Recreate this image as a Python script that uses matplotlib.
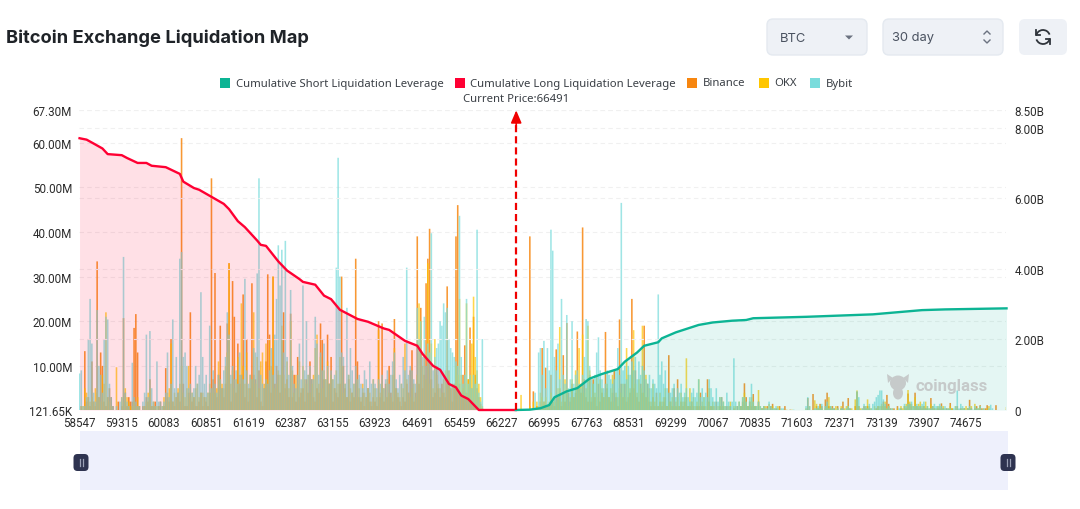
import numpy as np
import matplotlib
matplotlib.use("Agg")
import matplotlib.pyplot as plt
from matplotlib.patches import Rectangle, FancyBboxPatch, Polygon, Ellipse, Arc

# liquidation per price bin, in millions. one line = one x tick interval (24 bins)
start_price = 58547
bin_size = 32
current_price = 66491

binance = [
    0,1,0,13.3,2,3,1,11,2,1,33.4,3,13,10,2,1,3,5,3,1,0,0,2,0,
    1,20.7,4,1,3,2,2,18.5,21.6,13,1,0,1,1,3,2,7,1,1,2,0,1,2,0,
    1,9.5,3,2,16,2,1,3,4,2,61,6,1,1,4,22,2,3,1,1,2,4,1,3,
    2,1,4,52,7,30.8,3,8,19,5,3,6,19.5,33,2,29,21,4,15,6,8,26,3,16,
    2,5,28.5,8,7,3,9,2,1,5,11,30.5,17,4,30,6,10,8,4,16,22,5,7,3,
    21.7,3,8,2,12,3,4,5,2,7,4,11,7,3,2,5,4,19.5,16,7,3,17,6,12,
    2,5,4,3,6,30,10,5,3,7,2,4,3,34,11,3,2,4,1,3,5,2,1,3,
    2,1,20,3,19.5,2,6,3,10,4,2,20.5,5,3,2,1,3,2,6,4,9,13.5,2,4,
    39,6,23,5,8,28.5,34,40.7,7,3,4,10,5,3,6,4,3,27.8,9,5,2,6,39,46,
    6,3,8,14.6,4,7,18.6,5,21,8,5,3,1.5,0.5,0,0,0,0,0,0,0,0,0,0,
    0,0,0,0,0,0,0,0,0,0,0,0,0,0,0,0,39,0,4.3,0,1,0,2,14,
    2,9.6,1,1,8,2,1,13.7,3,5,1,12.4,2,19.6,4,2,6,3,4,17.7,5,4,41,7,
    3,2,8,2,7,3,1,6,2,4,3,17.6,5,3,2,4,9,3,1,20.4,6,3,6,2,
    3,4,25,5,9,3,2,6,4,19,3,6,2,1,3,1,4,1,2,1,2,3,1,12.4,
    2,1,5,1,7,1,2,1,2,3,1,1,2,1,0,1,1,4,1,1,0,7,2,1,
    1,0,2,0,1,3,1,0,1,0,1,0,0.5,0,1,0,1,2,6.1,3,1,2,1,3.7,
    1,0,2,0,0.5,1,0,1,0,1,1.5,0,0.5,0,1,0,0,1,0,0,0.2,0,0,0,
    0,0,0,0,0,0,2.8,0,0,3.7,0,1,0.5,1.5,1,0,2.5,4,1,0.5,1,0.5,0,1,
    0,0.5,2,0,0,2.8,0.5,0,0,1,4.2,1,0,0,1,0.5,1,0.5,0,0,0,0.5,1,0,
    1,2,1,3.5,1.5,0.5,0,0.5,0,1,0,0.5,0,1,0.5,3.8,1.5,1,0,4,1,0.5,1,0.5,
    1,0.5,0.5,0,2.8,1,0.5,0,0.5,0.5,1.6,0.5,0,0.5,0.2,1.7,0.5,0,0,1,0.2,0.5,0,0.5,
    0,0.5,2.4,0.5,0,0.5,1,0,1.2,0.5,0,0.5,1.2,0,0,0,0,1.2,0,0,0,0,0,0.2,
]

okx = [
    0,1,1,5,4,3,2,3,2,5,4,3,2,8,6,22,3,2,1,0,0,9.7,0,0,
    3,2,5,3,2,1,1,2,1,3,1,0,0,1,2,4,5,1,2,1,1,1,0,1,
    3,2,4,5,15,2,4,3,5,6,10,4,3,5,10,3,4,3,5,6,3,4,4,3,
    3,4,6,4,5,4,5,11,7,6,5,10,13,33,6,9,5,7,12,8,24,10,6,13,
    5,8,7,22,6,12,5,11,13,6,15,7,16,10,30,5,6,9,8,19,8,6,11,5,
    20,9,4,8,6,11,5,10,7,6,8,4,6,8,14,17,6,12,5,9,7,11,6,8,
    7,5,9,6,12,10,4,6,3,8,5,4,6,3,7,5,3,6,4,3,5,4,2,7,
    5,3,18,4,6,5,3,7,4,3,8,14,5,4,3,6,5,15,7,4,3,5,6,3,
    8,24,20,10,12,7,33,6,15,5,16,8,6,5,4,7,9,6,8,5,6,5,10,8,
    25,8,5,6,24,7,8,15,25.5,12,9,6,3,1,0,0,0,0,0,0,0,0,0,0,
    0,0,0,0,0,0,0,0,0,0,0,3.5,0,0,0,0,1,0,2,0,2,1,4,3,
    2,3,1,2,4,2,3,2,5,18.7,2,4,7,5,1,3,7,3,9,7,14,6,17,4,
    5,19,9,3,6,4,8,3,7,5,3,4,6,3,5,8,2,4,3,5,4,6,3,14,
    8,5,9,18,6,4,7,5,19,4,8,3,5,2,6,2,3,1,4,2,3,5,1,2,
    2,3,1,2,3,1,4,2,3,11.7,1,5,2,3,1,2,7,1,2,3,1,2,5,1,
    2,1,0,1,3,1,2,1,0,1,2,0,1,1,0,2,1,3,4,2,1,2,3,2,
    1,1,4.6,1,0.5,1,1,0,1.5,0,1,0.5,0,1,0.5,0,0.2,0,0.2,0,0,0.2,0,0,
    0,0,0,0,0,0.5,0,1,0,0,2.3,1.5,0.5,1,0.5,0,0.5,1,3,1,0.5,0,1,0.5,
    0,1,0,0.5,1,1,0,0.5,0,2.5,4.5,1,0.5,0.5,0,1,2.5,1,0.5,0,1,0.5,1,1,
    1.5,1,2,0.5,1,0,0.5,0,0,0.5,0,1,0.5,1,1.5,4.6,2,1.5,1,3,1,1.5,2,1,
    1,2,1,0.5,1.5,1,0.5,0.5,1,1,0.5,1,0.5,0,0.5,1,0.5,0,1,0.5,0,0.5,0.5,0.5,
    1,0.5,0.5,1,0,1.5,0.5,0.5,1,0,0.5,0,0.5,1,0,0,0,0,0,0,0,0,0,0.8,
]

bybit = [
    8.3,9,1,1,3,16,25,15,4,2,22.5,10,8,4,16,21,20.4,6,3,1,0,1,0,2,
    3,34.4,4,2,1,0,10.7,3,2,1,1,0,2,4,17,3,17.8,5,2,1,11,2,2,1,
    2,4,13,3,6,20.4,5,12,4,34,35.5,12,13,10,5,6,4,5,10,6,8,26.5,12,6,
    8,4,19,5,9,6,4,8,7,5,9,12,22,17,8,10,7,9,6,13,8,7,29.5,9,
    6,8,7,14,13,30.7,52,8,6,5,7,6,9,14,8,17,25,37,28,36,13,38,12,8,
    27,10,6,5,8,15,7,28,9,20,8,10,7,7,21,15,8,13,9,15,7,10,6,9,
    7,8,32,56.6,30,13,12,6,23,8,14,9,6,10,7,8,6,5,9,7,5,11,6,7,
    6,5,7,6,8,5,7,9,6,8,11,13,7,5,8,6,12,9,32,8,10,9,7,6,
    23,16,20,12,21,10,15,13,39.7,9,12,14,15,20,19,24,22,23,16,14,13,12,11,10,
    43.6,12,6,8,25,6,8,5,8,6,40.5,4,2,16,0,0,0,0,0,0,0,0,0,0,
    0,0,0,0,0,0,0,0,0,0,0,0,0,0,0,0,0,0,0,4,0,13,14,8,
    15.6,5,14,9,40.5,35.8,12,9,15,7,25,8,6,21.4,5,7,20,6,8,9,6,5,8,12,
    20.5,20,10,7,6,8,13,16.4,9,7,5,6,9,8,7,6,7,9,14,8,46.5,9,10,7,
    10,8,11,9,12,7,11,8,10,9,7,6,8,5,7,6,5,26,8,11,6,9,5,4,
    4,5,6,3,5,4,6,3,4,5,3,2,4,5,3,4,7,3,5,3,4,3,7,5,
    3,2,5,2,3,3,2,1,4,2,1,2,11.7,2,1,2,1,3,3,2,1,3,6,2,
    1,1,2,1,0.5,1,0.5,0.5,2,1,0.5,0.5,1,0.5,0,0.5,0.5,0,0,0,0,0,0.2,0,
    0,0,0,0,0,1,3,1,0,0,0.5,0.5,1,0.5,1.5,0,1,2,0.5,1,0.5,0.5,0,0.5,
    0,0.5,0.5,0,0.5,1,0.5,0,0,0,4.3,3,0,0.5,1.5,1,0.5,1.5,0.5,1.5,2,3,3.5,4.5,
    4.5,2.5,1.5,0.5,1,0.5,0.5,0,0,0,0.5,0.5,0,1.5,1,1.5,1.5,2,1,1,1.5,1,1,1.5,
    2,0.5,1,0.5,0.5,1,1.5,1,1,1.5,1,0.5,1,0.5,0.5,0.5,0,0.5,1,4.5,0.5,1.5,1,0.5,
    0,0.5,1,0.5,0.2,1,0.5,0.5,1,0.2,0.5,0,0,0.5,1.3,0.5,0,0,0,0,0,0,0,0,
]

# cumulative curves in billions, read at these bin numbers
long_bins = [0,4,8,13,16,24,27,33,38,41,49,57,59,65,68,75,82,85,90,94,101,103,106,113,118,125,127,134,139,143,148,158,164,173,176,185,192,195,201,205,210,214,217,221,227,248]
long_vals = [7.70,7.66,7.55,7.41,7.25,7.22,7.14,7.00,7.00,6.92,6.88,6.69,6.47,6.29,6.24,6.04,5.84,5.69,5.35,5.18,4.80,4.68,4.65,4.21,3.95,3.71,3.63,3.55,3.24,3.14,2.84,2.58,2.50,2.31,2.27,1.96,1.82,1.59,1.25,1.14,0.74,0.64,0.41,0.31,0,0]
short_bins = [248,256,262,267,270,277,283,290,297,306,310,317,321,329,331,339,352,360,371,379,383,413,451,479,492,527]
short_vals = [0,0.01,0.05,0.14,0.36,0.53,0.62,0.89,1.02,1.16,1.37,1.63,1.82,1.92,2.03,2.20,2.41,2.48,2.53,2.55,2.60,2.64,2.71,2.83,2.85,2.88]

left_ticks = [0.12165,10,20,30,40,50,60,67.3]
left_labels = ["121.65K","10.00M","20.00M","30.00M","40.00M","50.00M","60.00M","67.30M"]
right_ticks = [0,2,4,6,8,8.5]
right_labels = ["0","2.00B","4.00B","6.00B","8.00B","8.50B"]
legend_names = ["Cumulative Short Liquidation Leverage","Cumulative Long Liquidation Leverage","Binance","OKX","Bybit"]

assert len(binance) == 528 and len(okx) == 528 and len(bybit) == 528

RED = "#FF0033"
TEAL = "#0CB494"
ORANGE = "#F7860F"
YELLOW = "#FFC600"
CYAN = "#7ADCDC"
TEXT = "#2B2B2B"
GRID = "#F0F0F0"

plt.rcParams["font.family"] = ["Roboto", "DejaVu Sans"]

def to_price(bins):
    return start_price + bin_size * np.asarray(bins)

fig = plt.figure(figsize=(10.8, 5.1), dpi=100)
ax = fig.add_axes([79/1080, 99/510, 927/1080, 300/510])

x = to_price(np.arange(528))
w = bin_size * 0.9
ax.bar(x, binance, width=w, color=ORANGE, alpha=0.85, linewidth=0, zorder=2, snap=False)
ax.bar(x, okx, width=w, color=YELLOW, alpha=0.7, linewidth=0, zorder=3, snap=False)
ax.bar(x, bybit, width=w, color=CYAN, alpha=0.72, linewidth=0, zorder=4, snap=False)

ax.set_xlim(start_price - 10, start_price + bin_size * 526.7)
ax.set_ylim(left_ticks[0], left_ticks[-1])
ax.set_yticks(left_ticks, left_labels)
tick_prices = to_price(np.arange(0, 528, 24))
ax.set_xticks(tick_prices, [str(p) for p in tick_prices])
ax.tick_params(axis="both", length=0, labelsize=8.4, labelcolor=TEXT)
ax.tick_params(axis="x", pad=4)
ax.tick_params(axis="y", pad=5)
ax.grid(axis="y", color=GRID, linestyle=(0, (4, 3)), linewidth=0.8, zorder=0)
for s in ax.spines.values():
    s.set_visible(False)

# right scale holds the cumulative curves, so they sit on top of the bars
ax2 = ax.twinx()
ax2.set_ylim(0, 8.5)
ax2.set_yticks(right_ticks, right_labels)
ax2.tick_params(axis="y", length=0, labelsize=8.4, labelcolor=TEXT, pad=6)
for s in ax2.spines.values():
    s.set_visible(False)
# the 2B..8B lines are dashed too
for t in right_ticks[1:]:
    ax2.axhline(t, color=GRID, linestyle=(0, (4, 3)), linewidth=0.8, zorder=0)

ax2.fill_between(to_price(long_bins), long_vals, 0, color=RED, alpha=0.12, linewidth=0)
ax2.fill_between(to_price(short_bins), short_vals, 0, color=TEAL, alpha=0.11, linewidth=0)
ax2.plot(to_price(long_bins), long_vals, color=RED, linewidth=1.7, solid_joinstyle="round", clip_on=False)
ax2.plot(to_price(short_bins), short_vals, color=TEAL, linewidth=1.7, solid_joinstyle="round", clip_on=False)

ax2.plot([current_price, current_price], [0, 8.1], color="#F00000", linewidth=1.6, linestyle=(0, (3.2, 1.8)))
ax2.annotate("", xy=(current_price, 8.49), xytext=(current_price, 8.0),
             arrowprops=dict(arrowstyle="-|>,head_length=0.75,head_width=0.32", color="#F00000", linewidth=1.2, shrinkA=0, shrinkB=0))

# everything around the chart is placed in pixels on an overlay
ui = fig.add_axes([0, 0, 1, 1], zorder=5)
ui.set_xlim(0, 1080)
ui.set_ylim(510, 0)
ui.axis("off")
ui.patch.set_alpha(0)

ui.text(6, 38, "Bitcoin Exchange Liquidation Map", fontsize=13.2, fontweight="bold",
        family=["Inter", "DejaVu Sans"], color="#1F2328", va="center", ha="left")

legend_box_x = [220, 455, 687, 759, 810]
legend_colors = [TEAL, RED, ORANGE, YELLOW, CYAN]
for bx, col, name in zip(legend_box_x, legend_colors, legend_names):
    ui.add_patch(Rectangle((bx, 79), 10, 10, color=col, linewidth=0))
    ui.text(bx + 15.5, 84, name, fontsize=8.15, color="#3A3F45", va="center", ha="left", family=["Noto Sans", "DejaVu Sans"])
ui.text(516, 100, "Current Price:" + str(current_price), fontsize=8.15, color="#3A3F45", va="center", ha="center", family=["Noto Sans", "DejaVu Sans"])

# selectors
for bx, bw in [(767, 100), (883, 120)]:
    ui.add_patch(FancyBboxPatch((bx, 20), bw, 36, boxstyle="round,pad=0,rounding_size=6",
                                facecolor="#EEF1F6", edgecolor="#E4E9F0", linewidth=1))
ui.add_patch(FancyBboxPatch((1019, 20), 48, 36, boxstyle="round,pad=0,rounding_size=6",
                            facecolor="#EEF1F6", edgecolor="none"))
ui.text(780, 38.5, "BTC", fontsize=9.3, color="#4A5260", va="center", family=["Inter", "DejaVu Sans"])
ui.text(892, 38.5, "30 day", fontsize=9.3, color="#4A5260", va="center", family=["Inter", "DejaVu Sans"])
ui.add_patch(Polygon([[845, 36.5], [853, 36.5], [849, 40.5]], color="#6B7280", linewidth=0))
ui.plot([984, 987, 990], [35, 32, 35], color="#6B7280", linewidth=1)
ui.plot([984, 987, 990], [41, 44, 41], color="#6B7280", linewidth=1)

# refresh icon
ui.add_patch(Arc((1043, 38), 14, 14, theta1=190, theta2=340, color="#2F343B", linewidth=1.3))
ui.add_patch(Arc((1043, 38), 14, 14, theta1=10, theta2=160, color="#2F343B", linewidth=1.3))
ui.plot([1036, 1036, 1040], [31, 36, 36], color="#2F343B", linewidth=1.3)
ui.plot([1050, 1050, 1046], [45, 40, 40], color="#2F343B", linewidth=1.3)

# range slider
ui.add_patch(Rectangle((80, 432), 928, 59, color="#EEF0FC", linewidth=0))
for hx in [81, 1008]:
    ui.add_patch(FancyBboxPatch((hx - 7.5, 455), 15, 17, boxstyle="round,pad=0,rounding_size=4",
                                facecolor="#2E3350", edgecolor="none"))
    ui.plot([hx - 1.5, hx - 1.5], [460, 467], color="#9AA0B5", linewidth=0.9)
    ui.plot([hx + 1.5, hx + 1.5], [460, 467], color="#9AA0B5", linewidth=0.9)

# watermark
wm = "#C6CACA"
ui.add_patch(Ellipse((898, 384), 16, 15, color=wm, linewidth=0))
ui.add_patch(Ellipse((898, 394), 10, 13, color=wm, linewidth=0))
ui.add_patch(Polygon([[887, 375], [893, 379], [888, 384]], color=wm, linewidth=0))
ui.add_patch(Polygon([[909, 375], [903, 379], [908, 384]], color=wm, linewidth=0))
ui.text(915, 387, "coinglass", fontsize=12.2, fontweight="bold", color=wm, va="center", ha="left")

fig.savefig("out.png", dpi=100)
